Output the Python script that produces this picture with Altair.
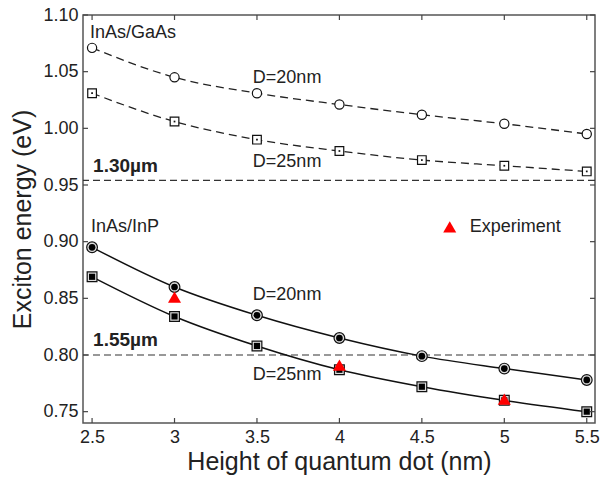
import altair as alt
import pandas as pd

# ---- data ----
heights = [2.5, 3, 3.5, 4, 4.5, 5, 5.5]
gaas_d20 = [1.071, 1.045, 1.031, 1.021, 1.012, 1.004, 0.995]
gaas_d25 = [1.031, 1.006, 0.990, 0.980, 0.972, 0.967, 0.962]
inp_d20 = [0.895, 0.860, 0.835, 0.815, 0.799, 0.788, 0.778]
inp_d25 = [0.869, 0.834, 0.808, 0.787, 0.772, 0.760, 0.750]
exp_h = [3, 4, 5]
exp_e = [0.851, 0.791, 0.761]
ref_lines = [0.954, 0.800]
x_ticks = [2.5, 3, 3.5, 4, 4.5, 5, 5.5]
y_ticks = [0.75, 0.80, 0.85, 0.90, 0.95, 1.00, 1.05, 1.10]

FONT = "Liberation Sans"
xs = alt.Scale(domain=[2.445, 5.55], nice=False, zero=False)
ys = alt.Scale(domain=[0.74, 1.10], nice=False, zero=False)

xaxis = alt.Axis(values=x_ticks, labelExpr="format(datum.value, '.2~f')", tickSize=0,
                 labelPadding=5, domain=False, grid=False, labelFontSize=18,
                 titleFontSize=25, titleFontWeight="normal", titlePadding=3,
                 labelColor="#222", titleColor="#222", labelFlush=False)
yaxis = alt.Axis(values=y_ticks, format=".2f", tickSize=0, labelPadding=5, domain=False,
                 grid=False, labelFontSize=18, titleFontSize=25, titleFontWeight="normal",
                 titlePadding=7, labelColor="#222", titleColor="#222")


def X(field="h"):
    return alt.X(f"{field}:Q", scale=xs, axis=xaxis, title="Height of quantum dot (nm)")


def Y(field="e"):
    return alt.Y(f"{field}:Q", scale=ys, axis=yaxis, title="Exciton energy (eV)")


def series(vals, name):
    return pd.DataFrame({"h": heights, "e": vals, "s": name})


gaas = pd.concat([series(gaas_d20, "g20"), series(gaas_d25, "g25")])
inp = pd.concat([series(inp_d20, "i20"), series(inp_d25, "i25")])

gaas_lines = alt.Chart(gaas).mark_line(color="#222", strokeDash=[8, 5], strokeWidth=1.3,
                                       interpolate="monotone").encode(x=X(), y=Y(), detail="s:N")
inp_lines = alt.Chart(inp).mark_line(color="#111", strokeWidth=1.5,
                                     interpolate="monotone").encode(x=X(), y=Y(), detail="s:N")

g20 = alt.Chart(series(gaas_d20, "g20")).mark_point(shape="circle", filled=True, fill="white",
                                                   stroke="#111", strokeWidth=1.2, size=85,
                                                   opacity=1).encode(x=X(), y=Y())
g25 = alt.Chart(series(gaas_d25, "g25")).mark_point(shape="square", filled=True, fill="white",
                                                   stroke="#111", strokeWidth=1.2, size=75,
                                                   opacity=1).encode(x=X(), y=Y())
g25dot = alt.Chart(series(gaas_d25, "g25")).mark_point(shape="square", filled=True, fill="#111",
                                                      size=3, opacity=1).encode(x=X(), y=Y())

i20o = alt.Chart(series(inp_d20, "i20")).mark_point(shape="circle", filled=True, fill="#ddd",
                                                   stroke="#111", strokeWidth=1.2, size=115,
                                                   opacity=1).encode(x=X(), y=Y())
i20i = alt.Chart(series(inp_d20, "i20")).mark_point(shape="circle", filled=True, fill="#000",
                                                   size=45, opacity=1).encode(x=X(), y=Y())
i25o = alt.Chart(series(inp_d25, "i25")).mark_point(shape="square", filled=True, fill="#ddd",
                                                   stroke="#111", strokeWidth=1.2, size=95,
                                                   opacity=1).encode(x=X(), y=Y())
i25i = alt.Chart(series(inp_d25, "i25")).mark_point(shape="square", filled=True, fill="#000",
                                                   size=38, opacity=1).encode(x=X(), y=Y())

exp_df = pd.DataFrame({"h": exp_h, "e": exp_e})
exp_pts = alt.Chart(exp_df).mark_point(shape="triangle-up", filled=True, fill="#ff0000",
                                       size=170, opacity=1).encode(x=X(), y=Y())

refs = alt.Chart(pd.DataFrame({"e": ref_lines})).mark_rule(
    color="#333", strokeDash=[7, 4], strokeWidth=1.2).encode(y=Y())

# inward ticks on all four sides
xt = pd.DataFrame({"h": x_ticks})
yt = pd.DataFrame({"e": y_ticks})
tick_style = dict(color="#444", strokeWidth=1.2)
xt_bottom = alt.Chart(xt).mark_rule(**tick_style).encode(x=X(), y=alt.value(408), y2=alt.value(403))
xt_top = alt.Chart(xt).mark_rule(**tick_style).encode(x=X(), y=alt.value(0), y2=alt.value(5))
yt_left = alt.Chart(yt).mark_rule(**tick_style).encode(y=Y(), x=alt.value(0), x2=alt.value(5))
yt_right = alt.Chart(yt).mark_rule(**tick_style).encode(y=Y(), x=alt.value(512), x2=alt.value(507))

# annotations
ann_h = [2.487, 3.475, 3.475, 2.493, 3.475, 3.475, 4.79]
ann_e = [1.084, 1.044, 0.970, 0.913, 0.853, 0.782, 0.913]
ann_t = ["InAs/GaAs", "D=20nm", "D=25nm", "InAs/InP", "D=20nm", "D=25nm", "Experiment"]
ann = alt.Chart(pd.DataFrame({"h": ann_h, "e": ann_e, "t": ann_t})).mark_text(
    align="left", baseline="middle", font=FONT, fontSize=18, color="#222").encode(
    x=X(), y=Y(), text="t:N")

bold_h = [2.506, 2.506]
bold_e = [0.967, 0.813]
bold_t = ["1.30\u00b5m", "1.55\u00b5m"]
bold = alt.Chart(pd.DataFrame({"h": bold_h, "e": bold_e, "t": bold_t})).mark_text(
    align="left", baseline="middle", font=FONT, fontSize=19, fontWeight="bold", color="#222").encode(
    x=X(), y=Y(), text="t:N")

leg = alt.Chart(pd.DataFrame({"h": [4.669], "e": [0.913]})).mark_point(
    shape="triangle-up", filled=True, fill="#ff0000", size=170, opacity=1).encode(x=X(), y=Y())

chart = alt.layer(
    refs, gaas_lines, inp_lines, g20, g25, g25dot, i20o, i20i, i25o, i25i, exp_pts,
    ann, bold, leg, xt_bottom, xt_top, yt_left, yt_right
).properties(
    width=512, height=408,
    padding={"left": 83, "top": 15, "right": 5, "bottom": 57},
    autosize=alt.AutoSizeParams(type="none"),
    background="white",
).configure_view(stroke="#555", strokeWidth=1.5).configure_axis(
    labelFont=FONT, titleFont=FONT)

chart.save("out.html", embed_options={"renderer": "svg", "actions": False})
